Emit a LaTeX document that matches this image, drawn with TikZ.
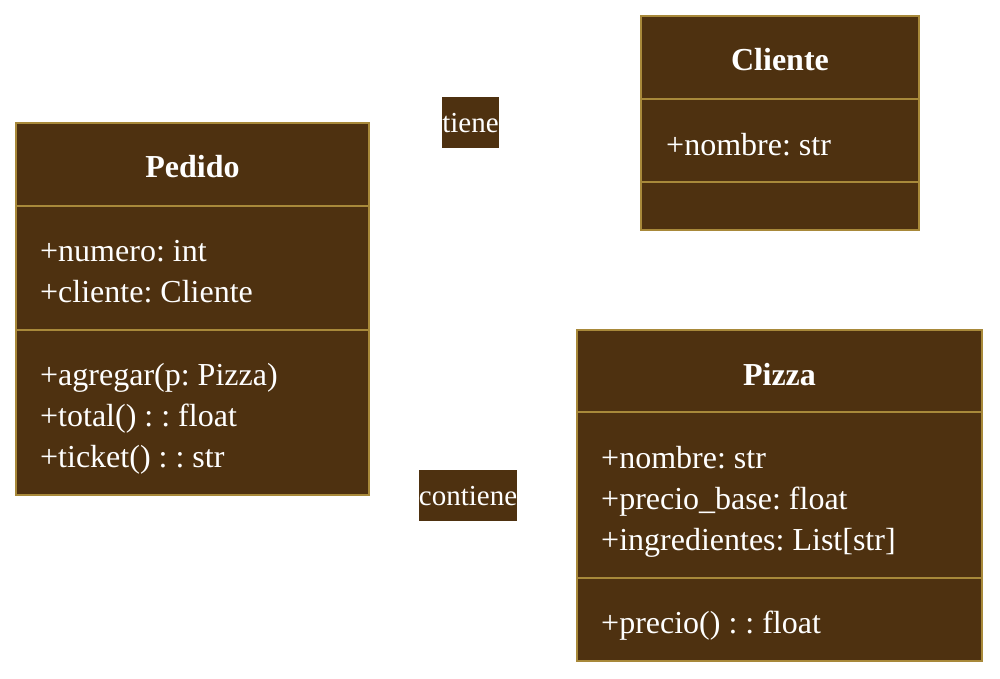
\documentclass[tikz,border=0pt]{standalone}
\usepackage{fontspec}
\setmainfont{Liberation Serif}
\frenchspacing
\definecolor{boxfill}{HTML}{4E3110}
\definecolor{boxline}{HTML}{A8893A}
\tikzset{
  classbox/.style={draw=boxline, fill=boxfill, line width=1.5pt},
  divider/.style={draw=boxline, line width=1.5pt},
  title/.style={text=white, font=\fontsize{32}{38}\selectfont\bfseries\frenchspacing, anchor=base, inner sep=0pt},
  member/.style={text=white, font=\fontsize{32}{38}\selectfont\frenchspacing, anchor=base west, inner sep=0pt},
  rel/.style={fill=boxfill, text=white, font=\fontsize{29}{34}\selectfont, inner sep=0pt, minimum height=51pt, text depth=0pt}
}
\begin{document}
\begin{tikzpicture}[x=1pt,y=-1pt]
\useasboundingbox (0,0) rectangle (1000,678);
% Pedido
\draw[classbox] (16,123) rectangle (369,495);
\draw[divider] (16,206) -- (369,206);
\draw[divider] (16,330) -- (369,330);
\node[title] (pedT) at (192.5,177) {Pedido};
\node[member] (ped1) at (40,261) {+numero: int};
\node[member] (ped2) at (40,302) {+cliente: Cliente};
\node[member] (ped3) at (40,385) {+agregar(p: Pizza)};
\node[member] (ped4) at (40,426) {+total() : : float};
\node[member] (ped5) at (40,467) {+ticket() : : str};
% Cliente
\draw[classbox] (641,16) rectangle (919,230);
\draw[divider] (641,99) -- (919,99);
\draw[divider] (641,182) -- (919,182);
\node[title] (cliT) at (780,70) {Cliente};
\node[member] (cli1) at (666,155) {+nombre: str};
% Pizza
\draw[classbox] (577,330) rectangle (982,661);
\draw[divider] (577,412) -- (982,412);
\draw[divider] (577,578) -- (982,578);
\node[title] (pizT) at (779.5,385) {Pizza};
\node[member] (piz1) at (601,468) {+nombre: str};
\node[member] (piz2) at (601,509) {+precio\_base: float};
\node[member] (piz3) at (601,550) {+ingredientes: List[str]};
\node[member] (piz4) at (601,633) {+precio() : : float};
% relation labels
\node[rel, minimum width=55pt] (tiene) at (470.5,122.5) {tiene};
\node[rel, minimum width=98pt] (contiene) at (468,495.5) {contiene};
\end{tikzpicture}
\end{document}
